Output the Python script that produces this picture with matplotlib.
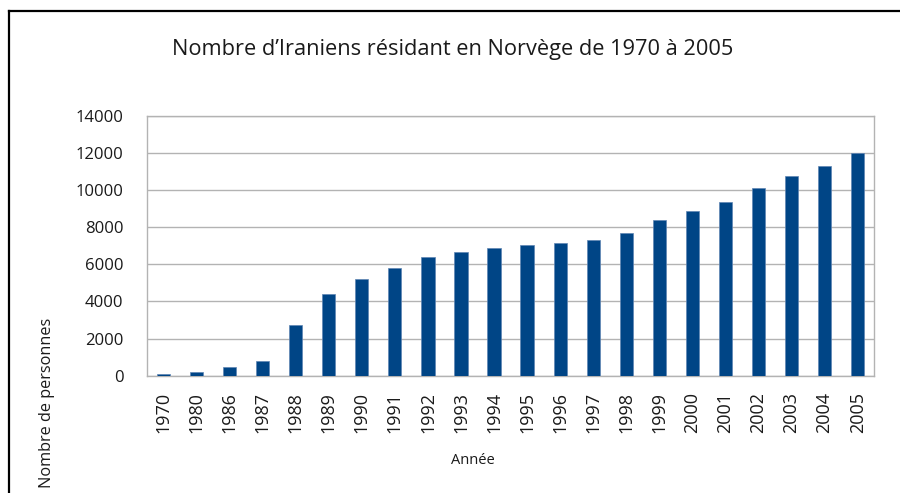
import matplotlib.pyplot as plt
from matplotlib.lines import Line2D
import numpy as np

# Iraniens résidant en Norvège, par année
annees = ["1970", "1980", "1986", "1987", "1988", "1989", "1990", "1991",
          "1992", "1993", "1994", "1995", "1996", "1997", "1998", "1999",
          "2000", "2001", "2002", "2003", "2004", "2005"]
personnes = [90, 200, 470, 790, 2750, 4400, 5200, 5800,
             6400, 6660, 6880, 7050, 7160, 7330, 7710, 8360,
             8850, 9350, 10100, 10750, 11300, 11970]
graduations = [0, 2000, 4000, 6000, 8000, 10000, 12000, 14000]

plt.rcParams['font.family'] = ['Open Sans', 'DejaVu Sans']

fig = plt.figure(figsize=(9, 4.93), dpi=100)
ax = fig.add_axes([0.1633, 0.238, 0.808, 0.5273])

x = np.arange(len(annees))
ax.bar(x, personnes, width=0.4, color='#004586', edgecolor='#5f85b3',
       linewidth=0.5, zorder=3)

ax.set_xlim(-0.5, len(annees) - 0.5)
ax.set_ylim(0, 14000)
ax.set_yticks(graduations)
ax.set_yticklabels([str(v) for v in graduations], fontsize=12)
ax.set_xticks(x)
ax.set_xticklabels(annees, rotation=90, fontsize=13)
ax.tick_params(length=0, pad=12, colors='#1a1a1a')
ax.tick_params(axis='y', pad=17)

ax.grid(axis='y', color='#b3b3b3', linewidth=1, zorder=0)
for s in ax.spines.values():
    s.set_color('#b3b3b3')
    s.set_linewidth(1)

fig.text(453 / 900, 1 - 50 / 493,
         "Nombre d\u2019Iraniens résidant en Norvège de 1970 à 2005",
         ha='center', va='center', fontsize=15.7, color='#1a1a1a')
fig.text(473 / 900, 1 - 461 / 493, "Année", ha='center', va='center',
         fontsize=10.5, color='#1a1a1a')
fig.text(47 / 900, 1 - 318 / 493, "Nombre de personnes", rotation=90,
         ha='center', va='top', fontsize=11.7, color='#1a1a1a')

# cadre noir autour du graphique
fig.add_artist(Line2D([9 / 900, 9 / 900], [0, 1 - 11 / 493],
                      color='black', linewidth=1.6))
fig.add_artist(Line2D([9 / 900, 1], [1 - 11 / 493, 1 - 11 / 493],
                      color='black', linewidth=1.6))

fig.savefig("out.png", dpi=100)
